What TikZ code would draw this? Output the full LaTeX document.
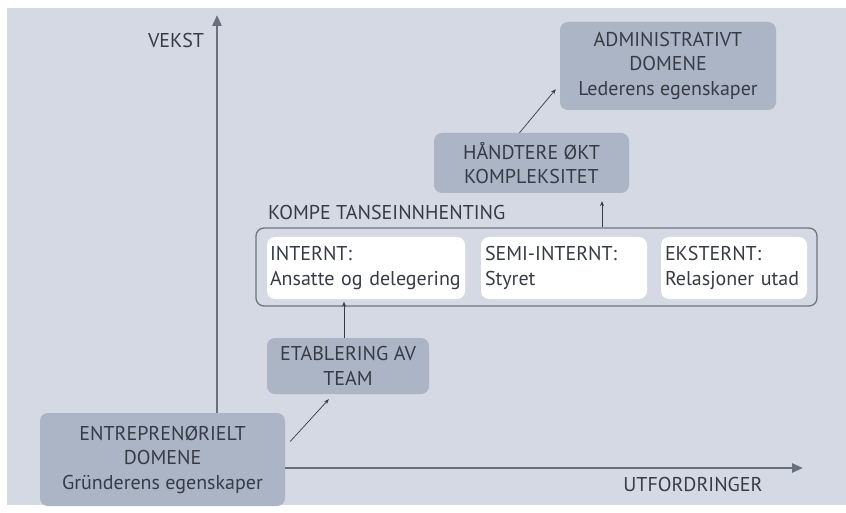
\documentclass[tikz,border=0pt]{standalone}
\usepackage{fontspec}
\setmainfont{PT Sans}
\usetikzlibrary{arrows.meta,calc}
\definecolor{bgc}{RGB}{212,217,227}
\definecolor{boxc}{RGB}{171,181,197}
\definecolor{txtc}{RGB}{55,59,69}
\definecolor{axisc}{RGB}{105,112,125}
\definecolor{contc}{RGB}{110,117,130}
\tikzset{
  every node/.style={text=txtc, font=\fontsize{20}{24.5}\selectfont},
  greybox/.style={fill=boxc, rounded corners=8pt, align=center, inner sep=0pt},
  whitebox/.style={fill=white, rounded corners=8pt, align=left, inner sep=0pt},
  container/.style={draw=contc, line width=1.3pt, fill=bgc, rounded corners=8pt, inner sep=0pt},
  axisline/.style={draw=axisc, line width=2.6pt, -{Triangle[length=11pt,width=9pt]}},
  arr/.style={draw=txtc, line width=0.7pt, -{Stealth[length=5pt,width=4pt]}}
}
\begin{document}
\begin{tikzpicture}[x=1pt,y=-1pt]
\useasboundingbox (0,0) rectangle (846,513);
\fill[white] (0,0) rectangle (846,513);
\fill[bgc] (7,8) rectangle (846,505);

% grey boxes
\node[greybox, minimum width=245pt, minimum height=93pt] (entr) at (162.5,459.5)
  {ENTREPRENØRIELT\\DOMENE\\Gründerens egenskaper};
\node[greybox, minimum width=162pt, minimum height=56pt] (etab) at (348,366)
  {ETABLERING AV\\TEAM};
\node[greybox, minimum width=195pt, minimum height=60pt] (hand) at (531.5,163)
  {HÅNDTERE ØKT\\KOMPLEKSITET};
\node[greybox, minimum width=216pt, minimum height=88pt] (admin) at (668,66)
  {ADMINISTRATIVT\\DOMENE\\Lederens egenskaper};

% container
\node[container, minimum width=561pt, minimum height=78pt] (cont) at (536.5,267) {};
\node[anchor=west, inner sep=0pt] (kompe) at (268,213) {KOMPE TANSEINNHENTING};
\node[whitebox, minimum width=198pt, minimum height=62pt, text width=192pt] (w1) at (366,268)
  {INTERNT:\\Ansatte og delegering};
\node[whitebox, minimum width=166pt, minimum height=62pt, text width=158pt] (w2) at (564,268)
  {SEMI-INTERNT:\\Styret};
\node[whitebox, minimum width=146pt, minimum height=62pt, text width=138pt] (w3) at (734,268)
  {EKSTERNT:\\Relasjoner utad};

% axes
\coordinate (ytip) at (217,15);
\coordinate (xtip) at (803,468);
\draw[axisline] (entr.north -| ytip) -- (ytip);
\draw[axisline] (entr.east |- xtip) -- (xtip);
\node[inner sep=0pt] (vekst) at (176,41) {VEKST};
\node[inner sep=0pt] (utf) at (693,484) {UTFORDRINGER};

% connectors
\draw[arr] ($(entr.east)+(5,-18)$) -- ($(etab.south west)+(62,5)$);
\draw[arr] ($(etab.north)+(-4,0)$) -- ($(cont.south)+(-192.5,-5)$);
\draw[arr] ($(cont.north)+(65.5,0)$) -- ($(hand.south)+(70.5,8)$);
\draw[arr] ($(hand.north)+(-12,0)$) -- ($(admin.south west)+(-4,-21)$);
\end{tikzpicture}
\end{document}
